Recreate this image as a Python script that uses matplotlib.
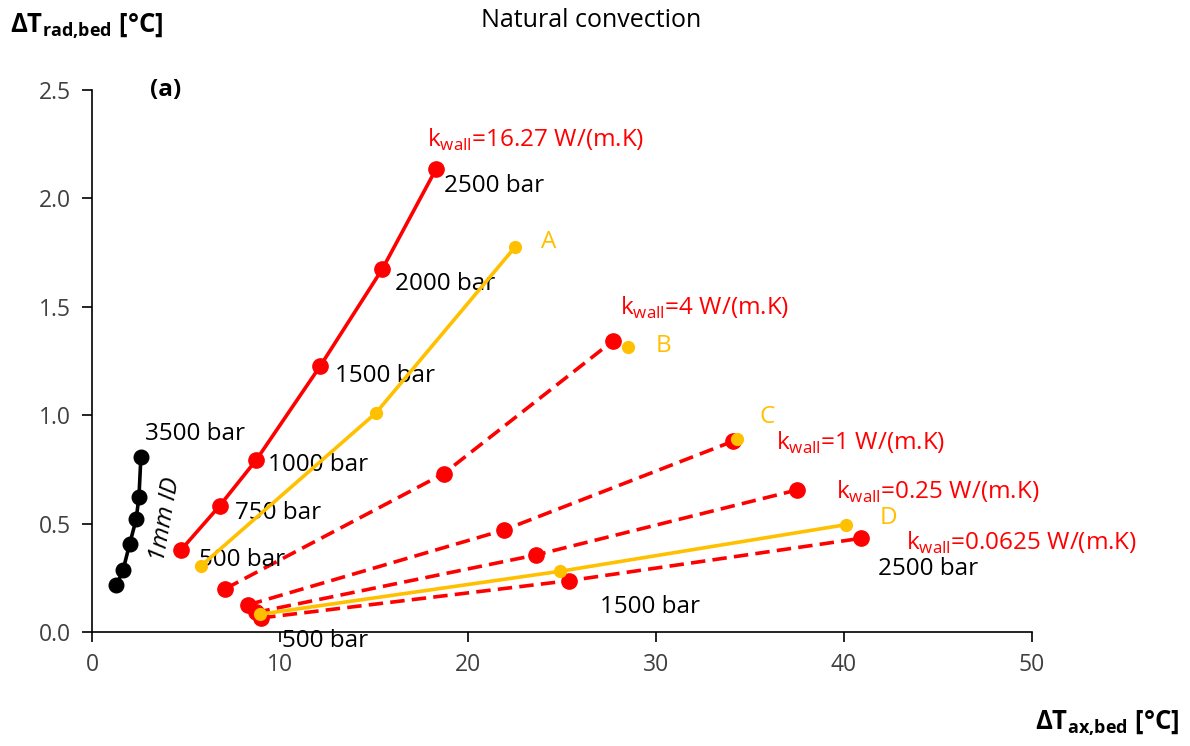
import matplotlib
matplotlib.use("Agg")
import matplotlib.pyplot as plt

plt.rcParams['font.family'] = ['Open Sans', 'DejaVu Sans']
plt.rcParams['mathtext.fontset'] = 'custom'
plt.rcParams['mathtext.rm'] = 'Open Sans'
plt.rcParams['mathtext.bf'] = 'Open Sans:bold'

RED = '#FF0000'
YELLOW = '#FFC000'

# 1 mm ID tube, 500 ... 3500 bar
id1_x = [1.3, 1.65, 2.0, 2.35, 2.5, 2.6]
id1_y = [0.215, 0.285, 0.405, 0.52, 0.625, 0.805]

# k_wall = 16.27 W/(m.K): 500, 750, 1000, 1500, 2000, 2500 bar
k1627_x = [4.75, 6.8, 8.75, 12.15, 15.45, 18.3]
k1627_y = [0.38, 0.583, 0.795, 1.228, 1.675, 2.135]
k1627_bar = ['500 bar', '750 bar', '1000 bar', '1500 bar', '2000 bar', '2500 bar']

# dashed series: 500, 1500, 2500 bar
k4_x = [7.1, 18.7, 27.7]
k4_y = [0.2, 0.73, 1.342]
k1_x = [8.3, 21.9, 34.1]
k1_y = [0.125, 0.47, 0.88]
k025_x = [8.7, 23.6, 37.5]
k025_y = [0.09, 0.355, 0.655]
k00625_x = [9.0, 25.4, 40.9]
k00625_y = [0.065, 0.237, 0.432]

# yellow reference cases
a_x = [5.8, 15.1, 22.5]
a_y = [0.305, 1.01, 1.775]
b_x = [28.5]
b_y = [1.315]
c_x = [34.3]
c_y = [0.888]
d_x = [8.95, 24.9, 40.1]
d_y = [0.082, 0.28, 0.495]

fig = plt.figure(figsize=(11.9, 7.46), dpi=100)
ax = fig.add_axes([0.0773, 0.1528, 0.7899, 0.7266])

dash = (0, (4.0, 2.0))
ax.plot(id1_x, id1_y, color='black', lw=2.6, marker='o', ms=10.5, zorder=4)
ax.plot(k1627_x, k1627_y, color=RED, lw=2.6, marker='o', ms=11, zorder=4)
for xs, ys in [(k4_x, k4_y), (k1_x, k1_y), (k025_x, k025_y), (k00625_x, k00625_y)]:
    ax.plot(xs, ys, color=RED, lw=2.6, ls=dash, marker='o', ms=11, zorder=3)
for xs, ys in [(a_x, a_y), (b_x, b_y), (c_x, c_y), (d_x, d_y)]:
    ax.plot(xs, ys, color=YELLOW, lw=2.6, marker='o', ms=8.5, zorder=5)

ax.set_xlim(0, 50)
ax.set_ylim(0, 2.5)
ax.set_xticks([0, 10, 20, 30, 40, 50])
ax.set_yticks([0.0, 0.5, 1.0, 1.5, 2.0, 2.5])
ax.set_yticklabels(['0.0', '0.5', '1.0', '1.5', '2.0', '2.5'])
for s in ['top', 'right']:
    ax.spines[s].set_visible(False)
for s in ['left', 'bottom']:
    ax.spines[s].set_color('black')
    ax.spines[s].set_linewidth(1.2)
ax.tick_params(direction='out', length=7, width=1.2, labelsize=16.5,
               labelcolor='#404040', pad=8)

fs = 17.5
txt = dict(fontsize=fs, ha='left', va='center', clip_on=False)

# pressure labels
ax.text(18.7, 2.057, k1627_bar[5], **txt)
ax.text(16.1, 1.605, k1627_bar[4], **txt)
ax.text(12.9, 1.18, k1627_bar[3], **txt)
ax.text(9.35, 0.77, k1627_bar[2], **txt)
ax.text(7.6, 0.549, k1627_bar[1], **txt)
ax.text(5.7, 0.332, k1627_bar[0], **txt)
ax.text(2.8, 0.913, '3500 bar', **txt)
ax.text(41.8, 0.29, '2500 bar', **txt)
ax.text(27.0, 0.115, '1500 bar', **txt)
ax.text(10.1, -0.04, '500 bar', **txt)
ax.text(3.9, 0.52, '1mm ID', fontsize=fs, style='italic', rotation=80,
        ha='center', va='center')

# wall conductivity labels
kw = r'k$_{\mathregular{wall}}$'
ax.text(17.8, 2.27, kw + '=16.27 W/(m.K)', color=RED, **txt)
ax.text(28.1, 1.494, kw + '=4 W/(m.K)', color=RED, **txt)
ax.text(36.4, 0.872, kw + '=1 W/(m.K)', color=RED, **txt)
ax.text(39.6, 0.646, kw + '=0.25 W/(m.K)', color=RED, **txt)
ax.text(43.3, 0.41, kw + '=0.0625 W/(m.K)', color=RED, **txt)

# case letters
ax.text(23.9, 1.80, 'A', color=YELLOW, **txt)
ax.text(30.0, 1.319, 'B', color=YELLOW, **txt)
ax.text(35.5, 0.99, 'C', color=YELLOW, **txt)
ax.text(41.9, 0.526, 'D', color=YELLOW, **txt)

ax.text(3.1, 2.5, '(a)', fontsize=fs, fontweight='bold', ha='left', va='center')

fig.text(0.497, 0.972, 'Natural convection', fontsize=18, ha='center', va='center')
fig.text(0.008, 0.965, r'ΔT$_{\mathbf{rad{,}bed}}$ [°C]', fontsize=18.5,
         fontweight='bold', ha='left', va='center')
fig.text(0.87, 0.03, r'ΔT$_{\mathbf{ax{,}bed}}$ [°C]', fontsize=18.5,
         fontweight='bold', ha='left', va='center')

fig.savefig('out.png', dpi=100)
